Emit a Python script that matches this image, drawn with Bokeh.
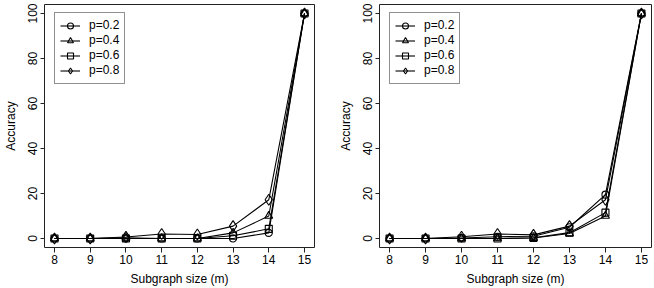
from bokeh.plotting import figure
from bokeh.layouts import row
from bokeh.models import Range1d, Legend, LegendItem, FixedTicker
from bokeh.embed import file_html
from bokeh.resources import INLINE

# Subgraph sizes on the x axis
sizes = [8, 9, 10, 11, 12, 13, 14, 15]
x_ticks = [8, 9, 10, 11, 12, 13, 14, 15]
y_ticks = [0, 20, 40, 60, 80, 100]

# Accuracy (%) per edge probability, first panel
left_p02 = [0, 0, 0, 0, 0, 0, 2.5, 100]
left_p04 = [0, 0, 0.3, 0, 0, 2.5, 10, 100]
left_p06 = [0, 0, 0, 0, 0, 1.2, 4.3, 100]
left_p08 = [0, 0, 0.7, 2.0, 1.8, 5.5, 17.2, 100]

# Accuracy (%) per edge probability, second panel
right_p02 = [0, 0, 0.2, 0.8, 1.0, 5.0, 19.5, 100]
right_p04 = [0, 0, 0, 0, 0.2, 2.2, 10.0, 100]
right_p06 = [0, 0, 0, 0, 0.3, 2.6, 11.5, 100]
right_p08 = [0, 0, 0.8, 2.0, 1.6, 5.5, 17.2, 100]

labels = ["p=0.2", "p=0.4", "p=0.6", "p=0.8"]
marker_specs = [("circle", 7), ("triangle", 8), ("square", 7), ("diamond", 11)]

FONT = "Liberation Sans"
FS = "12px"
INK = "#222222"


def make_panel(series, border_left, border_right):
    p = figure(width=border_left + 272 + border_right, height=288,
               output_backend="svg", toolbar_location=None,
               min_border_left=border_left, min_border_right=border_right,
               min_border_top=4, min_border_bottom=41,
               x_range=Range1d(7.72, 15.28), y_range=Range1d(-4, 104))
    p.background_fill_color = "white"
    p.border_fill_color = "white"
    p.outline_line_color = INK
    p.outline_line_width = 1
    p.xgrid.visible = False
    p.ygrid.visible = False

    p.xaxis.ticker = FixedTicker(ticks=x_ticks)
    p.yaxis.ticker = FixedTicker(ticks=y_ticks)
    p.xaxis.axis_label = "Subgraph size (m)"
    p.yaxis.axis_label = "Accuracy"
    for ax in (p.xaxis[0], p.yaxis[0]):
        ax.axis_line_color = None
        ax.minor_tick_line_color = None
        ax.major_tick_in = 0
        ax.major_tick_line_color = INK
        ax.major_label_text_font = FONT
        ax.major_label_text_font_size = FS
        ax.major_label_text_color = "black"
        ax.axis_label_text_font = FONT
        ax.axis_label_text_font_size = FS
        ax.axis_label_text_font_style = "normal"
        ax.axis_label_text_color = "black"
    p.xaxis.major_tick_out = 5
    p.xaxis.major_label_standoff = 2
    p.xaxis.axis_label_standoff = 5
    p.yaxis.major_tick_out = 4
    p.yaxis.major_label_standoff = 4
    p.yaxis.axis_label_standoff = 7
    p.yaxis.major_label_orientation = "vertical"

    items = []
    for vals, lab, (mk, ms) in zip(series, labels, marker_specs):
        ln = p.line(sizes, vals, line_color="black", line_width=1.1)
        sc = p.scatter(sizes, vals, marker=mk, size=ms,
                       fill_color="white", fill_alpha=0.0,
                       line_color="black", line_width=1.1)
        items.append(LegendItem(label=lab, renderers=[ln, sc]))

    legend = Legend(items=items, location=(10, 163.5), margin=0,
                    padding=5, spacing=0, glyph_width=20, glyph_height=15,
                    label_standoff=9, label_text_font=FONT,
                    label_text_font_size=FS, label_text_color="black",
                    label_height=15, border_line_color=INK,
                    border_line_width=1, background_fill_color="white",
                    background_fill_alpha=1.0)
    p.add_layout(legend, "center")
    return p


left = make_panel([left_p02, left_p04, left_p06, left_p08], 42, 13)
right = make_panel([right_p02, right_p04, right_p06, right_p08], 52, 3)

layout = row(left, right, spacing=0)
open("out.html", "w").write(file_html(layout, INLINE))
